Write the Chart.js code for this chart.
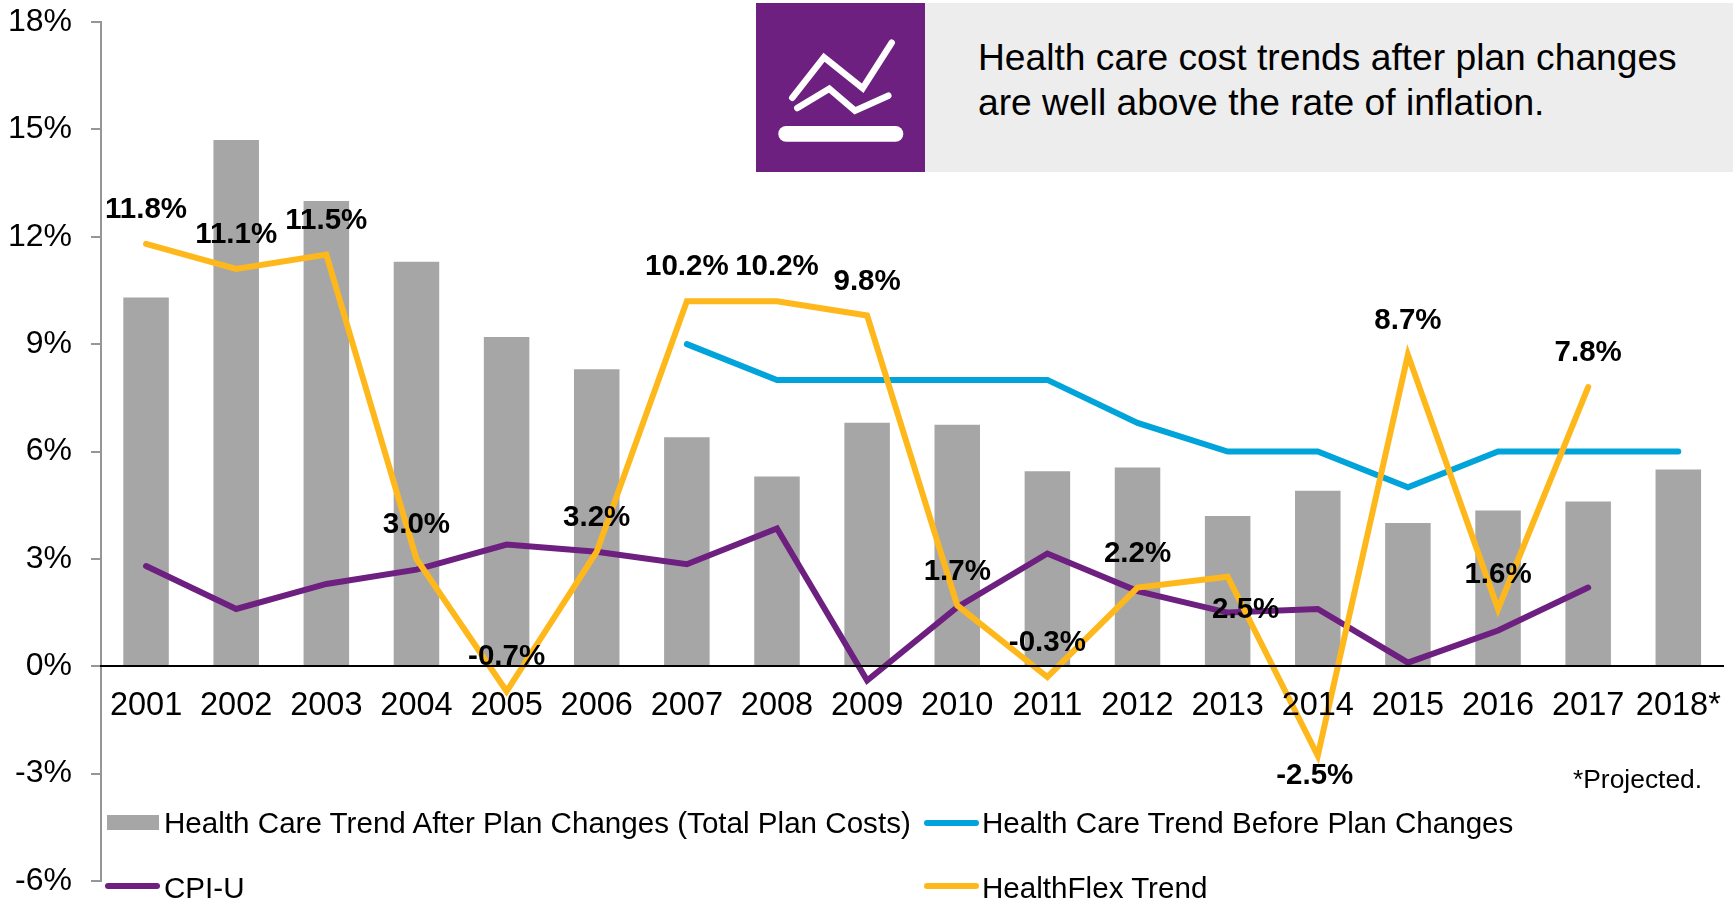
<!DOCTYPE html>
<html>
<head>
<meta charset="utf-8">
<title>Health care cost trends</title>
<script src="https://cdn.jsdelivr.net/npm/chart.js@4"></script>
<style>
  html, body { margin: 0; padding: 0; background: #fff; }
  body { width: 1733px; height: 898px; position: relative; overflow: hidden; font-family: "Liberation Sans", Arial, sans-serif; color: #000; }
  #myChart { position: absolute; left: 0; top: 0; }
  .callout-icon { position: absolute; left: 756px; top: 3px; width: 169px; height: 169px; background: #6d207f; }
  .callout-text { position: absolute; left: 925px; top: 3px; width: 808px; height: 169px; box-sizing: border-box; background: #ededed; padding: 32px 0 0 53px; font-size: 37.2px; line-height: 45px; white-space: nowrap; }
  .note { position: absolute; left: 1573px; top: 764px; font-size: 26.4px; line-height: 30px; }
  .legend-item { position: absolute; font-size: 29.6px; line-height: 34px; white-space: nowrap; }
  .swatch { position: absolute; }
</style>
</head>
<body>
<canvas id="myChart" width="1733" height="898"></canvas>

<div class="callout-icon">
  <svg width="169" height="169" viewBox="0 0 169 169">
    <polyline points="36.3,94.7 68,54.3 106.7,85.3 135.7,39.7" fill="none" stroke="#fff" stroke-width="6.5" stroke-linecap="round"/>
    <polyline points="41.3,105 73.3,85.7 99,107.7 132.3,92.7" fill="none" stroke="#fff" stroke-width="6.5" stroke-linecap="round"/>
    <rect x="22.3" y="123" width="125" height="15.7" rx="7.8" fill="#fff"/>
  </svg>
</div>
<div class="callout-text">Health care cost trends after plan changes<br>are well above the rate of inflation.</div>
<div class="note">*Projected.</div>
<div id="legend"></div>

<script>
const years = ['2001','2002','2003','2004','2005','2006','2007','2008','2009','2010','2011','2012','2013','2014','2015','2016','2017','2018*'];

const afterPlanChanges = [10.3,14.7,13.0,11.3,9.2,8.3,6.4,5.3,6.8,6.75,5.45,5.55,4.2,4.9,4.0,4.35,4.6,5.5];
const beforePlanChanges = [null,null,null,null,null,null,9,8,8,8,8,6.8,6,6,5,6,6,6];
const cpiU = [2.8,1.6,2.3,2.7,3.4,3.2,2.85,3.85,-0.4,1.65,3.15,2.1,1.5,1.6,0.1,1.0,2.2,null];
const healthFlex = [11.8,11.1,11.5,3.0,-0.7,3.2,10.2,10.2,9.8,1.7,-0.3,2.2,2.5,-2.5,8.7,1.6,7.8,null];

const GREY = '#a6a6a6';
const BLUE = '#00a3da';
const PURPLE = '#6d207f';
const ORANGE = '#ffb81c';
const FONT = '"Liberation Sans", Arial, sans-serif';

function lineSet(label, values, color, order) {
  return {
    type: 'line',
    label: label,
    data: values,
    borderColor: color,
    backgroundColor: color,
    borderWidth: 6,
    borderCapStyle: 'round',
    borderJoinStyle: 'miter',
    pointRadius: 0,
    tension: 0,
    spanGaps: false,
    order: order
  };
}

// most labels sit above their point, these two are moved out of the way
const labelShift = { 12: { x: 18, y: 33 }, 13: { x: -3, y: 20 } };

const healthFlexLabels = {
  id: 'healthFlexLabels',
  afterDatasetsDraw(chart) {
    const points = chart.getDatasetMeta(3).data;
    const ctx = chart.ctx;
    ctx.save();
    ctx.font = 'bold 29.5px ' + FONT;
    ctx.fillStyle = '#000';
    ctx.textAlign = 'center';
    ctx.textBaseline = 'middle';
    healthFlex.forEach((v, i) => {
      if (v === null) return;
      const shift = labelShift[i] || { x: 0, y: -34 };
      ctx.fillText(v.toFixed(1) + '%', points[i].x + shift.x, points[i].y + shift.y);
    });
    ctx.restore();
  }
};

const myChart = new Chart(document.getElementById('myChart').getContext('2d'), {
  data: {
    labels: years,
    datasets: [
      {
        type: 'bar',
        label: 'Health Care Trend After Plan Changes (Total Plan Costs)',
        data: afterPlanChanges,
        backgroundColor: GREY,
        categoryPercentage: 1,
        barPercentage: 0.505,
        order: 4
      },
      lineSet('Health Care Trend Before Plan Changes', beforePlanChanges, BLUE, 3),
      lineSet('CPI-U', cpiU, PURPLE, 2),
      lineSet('HealthFlex Trend', healthFlex, ORANGE, 1)
    ]
  },
  options: {
    responsive: false,
    animation: false,
    layout: { padding: { top: 22, right: 8, bottom: 17, left: 0 } },
    plugins: { legend: { display: false }, tooltip: { enabled: false } },
    scales: {
      x: {
        type: 'category',
        position: { y: 0 },
        offset: true,
        grid: { display: false },
        border: { color: '#000', width: 2, z: 1 },
        ticks: {
          color: '#000',
          font: { family: FONT, size: 32.5 },
          padding: 12,
          maxRotation: 0,
          autoSkip: false,
          z: 1
        }
      },
      y: {
        min: -6,
        max: 18,
        // fixed axis width, and no extra room reserved for the end tick labels
        afterFit(scale) {
          scale.width = 101;
          scale.paddingTop = 0;
          scale.paddingBottom = 0;
        },
        grid: { drawOnChartArea: false, drawTicks: true, tickLength: 10, color: '#969696', lineWidth: 2 },
        border: { color: '#969696', width: 2 },
        ticks: {
          stepSize: 3,
          color: '#000',
          font: { family: FONT, size: 32 },
          padding: 19,
          callback: v => v + '%'
        }
      }
    }
  },
  plugins: [healthFlexLabels]
});

// two by two legend under the plot, text and colours taken from the datasets
const legendSlots = [
  { x: 107, y: 823 }, { x: 924, y: 823 },
  { x: 105, y: 886 }, { x: 924, y: 886 }
];
const legendBox = document.getElementById('legend');
myChart.data.datasets.forEach((set, i) => {
  const slot = legendSlots[i];
  const swatch = document.createElement('div');
  swatch.className = 'swatch';
  swatch.style.background = set.backgroundColor;
  if (set.type === 'bar') {
    swatch.style.cssText += `left:${slot.x}px;top:${slot.y - 8}px;width:52px;height:15px;`;
  } else {
    swatch.style.cssText += `left:${slot.x}px;top:${slot.y - 3}px;width:55px;height:6px;border-radius:3px;`;
  }
  const text = document.createElement('div');
  text.className = 'legend-item';
  text.textContent = set.label;
  text.style.left = (slot.x < 500 ? 164 : 982) + 'px';
  text.style.top = (slot.y - (i > 1 ? 15 : 17)) + 'px';
  legendBox.appendChild(swatch);
  legendBox.appendChild(text);
});
</script>
</body>
</html>
